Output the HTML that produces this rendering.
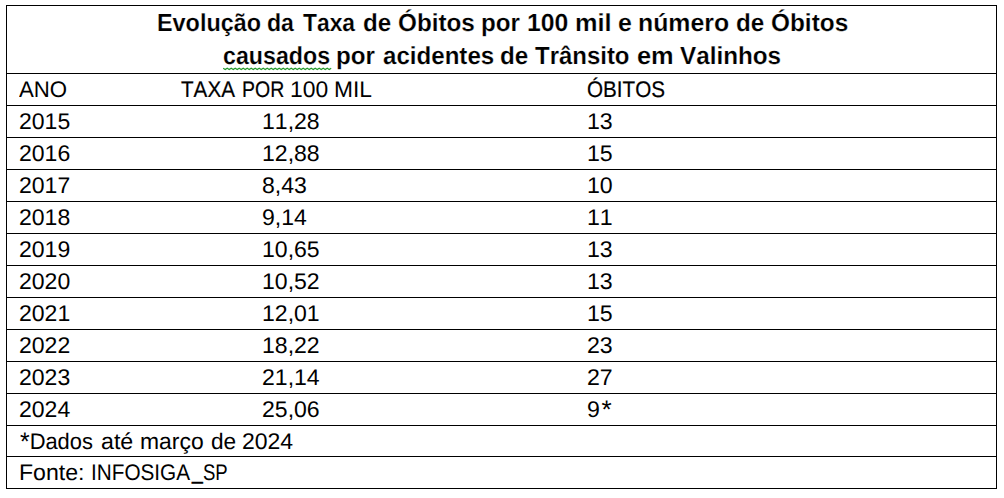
<!DOCTYPE html>
<html lang="pt-BR">
<head>
<meta charset="utf-8">
<title>Evolução da Taxa de Óbitos por 100 mil e número de Óbitos causados por acidentes de Trânsito em Valinhos</title>
<style>
html,body{margin:0;padding:0;background:#fff;}
body{width:1004px;height:498px;position:relative;overflow:hidden;font-family:"Liberation Sans",sans-serif;color:#000;text-rendering:geometricPrecision;}
.frame{position:absolute;left:6px;top:5px;width:989px;height:482px;border:1px solid #000;}
.hl{position:absolute;left:6px;width:991px;height:1px;background:#000;}
.t,.h{position:absolute;white-space:nowrap;transform-origin:0 0;font-kerning:none;}
.t{font-size:22.6px;line-height:26px;height:26px;}
.h{font-size:24.7px;font-weight:bold;-webkit-text-stroke:0.2px #fff;line-height:28px;height:28px;}
.ast{font-size:25.5px;line-height:0;position:relative;top:0.5px;}
.sq{position:absolute;left:222px;top:66px;width:110px;height:6px;}
</style>
</head>
<body>
<div class="frame"></div>
<div class="hl" style="top:73px"></div>
<div class="hl" style="top:105px"></div>
<div class="hl" style="top:137px"></div>
<div class="hl" style="top:169px"></div>
<div class="hl" style="top:201px"></div>
<div class="hl" style="top:233px"></div>
<div class="hl" style="top:265px"></div>
<div class="hl" style="top:297px"></div>
<div class="hl" style="top:329px"></div>
<div class="hl" style="top:361px"></div>
<div class="hl" style="top:393px"></div>
<div class="hl" style="top:425px"></div>
<div class="hl" style="top:456px"></div>
<div class="title">
<div class="line">
<div class="h" id="h1_0" style="left:156.56px;top:10.00px;transform:scaleX(0.9475)">Evolução</div>
<div class="h" id="h1_1" style="left:266.59px;top:10.00px;transform:scaleX(0.9353)">da</div>
<div class="h" id="h1_2" style="left:302.56px;top:10.00px;transform:scaleX(0.9244)">Taxa</div>
<div class="h" id="h1_3" style="left:362.70px;top:10.00px;transform:scaleX(0.9780)">de</div>
<div class="h" id="h1_4" style="left:397.64px;top:10.00px;transform:scaleX(0.9831)">Óbitos</div>
<div class="h" id="h1_5" style="left:480.68px;top:10.00px;transform:scaleX(0.9797)">por</div>
<div class="h" id="h1_6" style="left:526.72px;top:10.00px;transform:scaleX(1.0025)">100</div>
<div class="h" id="h1_7" style="left:574.50px;top:10.00px;transform:scaleX(1.0252)">mil</div>
<div class="h" id="h1_8" style="left:617.54px;top:10.00px;transform:scaleX(1.0079)">e</div>
<div class="h" id="h1_9" style="left:637.50px;top:10.00px;transform:scaleX(1.0067)">número</div>
<div class="h" id="h1_10" style="left:735.72px;top:10.00px;transform:scaleX(0.9796)">de</div>
<div class="h" id="h1_11" style="left:770.56px;top:10.00px;transform:scaleX(0.9875)">Óbitos</div>
</div>
<div class="line">
<div class="h" id="h2_0" style="left:222.57px;top:43.00px;transform:scaleX(0.9398)">causados</div>
<div class="h" id="h2_1" style="left:335.65px;top:43.00px;transform:scaleX(0.9797)">por</div>
<div class="h" id="h2_2" style="left:382.73px;top:43.00px;transform:scaleX(0.9764)">acidentes</div>
<div class="h" id="h2_3" style="left:499.59px;top:43.00px;transform:scaleX(0.9802)">de</div>
<div class="h" id="h2_4" style="left:534.50px;top:43.00px;transform:scaleX(0.9703)">Trânsito</div>
<div class="h" id="h2_5" style="left:636.74px;top:43.00px;transform:scaleX(1.0285)">em</div>
<div class="h" id="h2_6" style="left:679.73px;top:43.00px;transform:scaleX(0.9822)">Valinhos</div>
<svg class="sq" viewBox="0 0 110 6"><path d="M1.2 2.3 L3.2 3.6 L5.2 2.3 L7.2 3.6 L9.2 2.3 L11.2 3.6 L13.2 2.3 L15.2 3.6 L17.2 2.3 L19.2 3.6 L21.2 2.3 L23.2 3.6 L25.2 2.3 L27.2 3.6 L29.2 2.3 L31.2 3.6 L33.2 2.3 L35.2 3.6 L37.2 2.3 L39.2 3.6 L41.2 2.3 L43.2 3.6 L45.2 2.3 L47.2 3.6 L49.2 2.3 L51.2 3.6 L53.2 2.3 L55.2 3.6 L57.2 2.3 L59.2 3.6 L61.2 2.3 L63.2 3.6 L65.2 2.3 L67.2 3.6 L69.2 2.3 L71.2 3.6 L73.2 2.3 L75.2 3.6 L77.2 2.3 L79.2 3.6 L81.2 2.3 L83.2 3.6 L85.2 2.3 L87.2 3.6 L89.2 2.3 L91.2 3.6 L93.2 2.3 L95.2 3.6 L97.2 2.3 L99.2 3.6 L101.2 2.3 L103.2 3.6 L105.2 2.3 L107.2 3.6 L109.2 2.3" fill="none" stroke="#22992a" stroke-width="1.15"/></svg>
</div>
</div>
<div class="row head">
<div class="t" id="a0" style="left:18.50px;top:77.00px;transform:scaleX(0.9835)">ANO</div>
<div class="t" id="b0_0" style="left:180.52px;top:77.00px;transform:scaleX(0.9142);-webkit-text-stroke:0.2px #000">TAXA</div>
<div class="t" id="b0_1" style="left:241.72px;top:77.00px;transform:scaleX(0.8622);-webkit-text-stroke:0.2px #000">POR</div>
<div class="t" id="b0_2" style="left:289.50px;top:77.00px;transform:scaleX(1.0113)">100</div>
<div class="t" id="b0_3" style="left:333.73px;top:77.00px;transform:scaleX(1.0082)">MIL</div>
<div class="t" id="c0" style="left:586.69px;top:77.00px;transform:scaleX(0.9138);-webkit-text-stroke:0.2px #000">ÓBITOS</div>
</div>
<div class="row">
<div class="t" id="a1" style="left:18.73px;top:109.00px;transform:scaleX(1.0187)">2015</div>
<div class="t" id="b1" style="left:261.74px;top:109.00px;transform:scaleX(1.0198)">11,28</div>
<div class="t" id="c1" style="left:586.57px;top:109.00px;transform:scaleX(1.0243)">13</div>
</div>
<div class="row">
<div class="t" id="a2" style="left:18.73px;top:141.00px;transform:scaleX(1.0187)">2016</div>
<div class="t" id="b2" style="left:261.74px;top:141.00px;transform:scaleX(1.0198)">12,88</div>
<div class="t" id="c2" style="left:586.57px;top:141.00px;transform:scaleX(1.0243)">15</div>
</div>
<div class="row">
<div class="t" id="a3" style="left:18.73px;top:173.00px;transform:scaleX(1.0187)">2017</div>
<div class="t" id="b3" style="left:261.74px;top:173.00px;transform:scaleX(1.0198)">8,43</div>
<div class="t" id="c3" style="left:586.57px;top:173.00px;transform:scaleX(1.0243)">10</div>
</div>
<div class="row">
<div class="t" id="a4" style="left:18.73px;top:205.00px;transform:scaleX(1.0187)">2018</div>
<div class="t" id="b4" style="left:261.74px;top:205.00px;transform:scaleX(1.0198)">9,14</div>
<div class="t" id="c4" style="left:586.57px;top:205.00px;transform:scaleX(1.0243)">11</div>
</div>
<div class="row">
<div class="t" id="a5" style="left:18.73px;top:237.00px;transform:scaleX(1.0187)">2019</div>
<div class="t" id="b5" style="left:261.74px;top:237.00px;transform:scaleX(1.0198)">10,65</div>
<div class="t" id="c5" style="left:586.57px;top:237.00px;transform:scaleX(1.0243)">13</div>
</div>
<div class="row">
<div class="t" id="a6" style="left:18.73px;top:269.00px;transform:scaleX(1.0187)">2020</div>
<div class="t" id="b6" style="left:261.74px;top:269.00px;transform:scaleX(1.0198)">10,52</div>
<div class="t" id="c6" style="left:586.57px;top:269.00px;transform:scaleX(1.0243)">13</div>
</div>
<div class="row">
<div class="t" id="a7" style="left:18.73px;top:301.00px;transform:scaleX(1.0187)">2021</div>
<div class="t" id="b7" style="left:261.74px;top:301.00px;transform:scaleX(1.0198)">12,01</div>
<div class="t" id="c7" style="left:586.57px;top:301.00px;transform:scaleX(1.0243)">15</div>
</div>
<div class="row">
<div class="t" id="a8" style="left:18.73px;top:333.00px;transform:scaleX(1.0187)">2022</div>
<div class="t" id="b8" style="left:261.74px;top:333.00px;transform:scaleX(1.0198)">18,22</div>
<div class="t" id="c8" style="left:586.57px;top:333.00px;transform:scaleX(1.0243)">23</div>
</div>
<div class="row">
<div class="t" id="a9" style="left:18.73px;top:365.00px;transform:scaleX(1.0187)">2023</div>
<div class="t" id="b9" style="left:261.74px;top:365.00px;transform:scaleX(1.0198)">21,14</div>
<div class="t" id="c9" style="left:586.57px;top:365.00px;transform:scaleX(1.0243)">27</div>
</div>
<div class="row">
<div class="t" id="a10" style="left:18.73px;top:397.00px;transform:scaleX(1.0187)">2024</div>
<div class="t" id="b10" style="left:261.74px;top:397.00px;transform:scaleX(1.0198)">25,06</div>
<div class="t" id="c10" style="left:586.57px;top:397.00px;transform:scaleX(1.0243)">9<span class="ast" style="margin-left:1.6px">*</span></div>
</div>
<div class="row note">
<div class="t" id="n1_0" style="left:19.69px;top:429.00px;transform:scaleX(0.9689)"><span class="ast">*</span>Dados</div>
<div class="t" id="n1_1" style="left:100.56px;top:429.00px;transform:scaleX(1.0266)">até</div>
<div class="t" id="n1_2" style="left:139.64px;top:429.00px;transform:scaleX(1.0136)">março</div>
<div class="t" id="n1_3" style="left:210.62px;top:429.00px;transform:scaleX(1.0007)">de</div>
<div class="t" id="n1_4" style="left:241.56px;top:429.00px;transform:scaleX(1.0171)">2024</div>
</div>
<div class="row note">
<div class="t" id="n2_0" style="left:18.54px;top:460.00px;transform:scaleX(1.0222)">Fonte:</div>
<div class="t" id="n2_1" style="left:90.58px;top:460.00px;transform:scaleX(0.9175)">INFOSIGA</div>
<div class="t" id="n2_2" style="left:191.72px;top:459.00px;transform:scaleX(0.8513);-webkit-text-stroke:0.5px #000">_</div>
<div class="t" id="n2_3" style="left:202.67px;top:460.00px;transform:scaleX(0.8206)">SP</div>
</div>
</body>
</html>
